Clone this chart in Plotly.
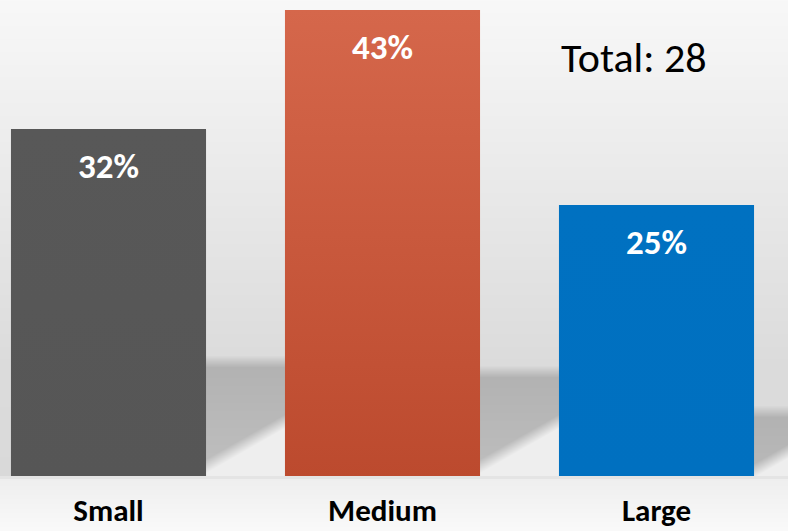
import base64
import struct
import zlib

import numpy as np
import plotly.graph_objects as go

# ---- data ----
categories = ["Small", "Medium", "Large"]
shares = [32, 43, 25]          # percent of total
total = 28
bar_top_colors = ["#585858", "#D5674B", "#0071C1"]
bar_bottom_colors = ["#565656", "#BC4A2E", "#0070C0"]

W, H = 788, 531
PLOT_H = 476
BAR_W = 0.712


def png_data_uri(gray):
    """Encode a 2-D uint8 array as a grayscale PNG data URI."""
    h, w = gray.shape
    raw = b"".join(b"\x00" + gray[r].tobytes() for r in range(h))

    def chunk(tag, data):
        c = struct.pack(">I", len(data)) + tag + data
        return c + struct.pack(">I", zlib.crc32(tag + data) & 0xFFFFFFFF)

    png = b"\x89PNG\r\n\x1a\n"
    png += chunk(b"IHDR", struct.pack(">IIBBBBB", w, h, 8, 0, 0, 0, 0))
    png += chunk(b"IDAT", zlib.compress(raw, 9))
    png += chunk(b"IEND", b"")
    return "data:image/png;base64," + base64.b64encode(png).decode()


def backdrop():
    """Soft studio backdrop: grey wall gradient, floor and cast shadows."""
    Y, X = np.mgrid[0:H, 0:W].astype(float)
    img = 248.0 - 0.078 * np.minimum(Y, 360) - 0.02 * np.clip(Y - 360, 0, None)

    # cast shadows between the bars: (x start, x end, band top, diag y at x start)
    shadows = [(200, 292, 361, 468), (474, 566, 371, 468), (747, 788, 411, 473)]
    slope = -0.57
    for x0, x1, top, yd in shadows:
        inside = (X >= x0) & (X < x1) & (Y < PLOT_H)
        a = np.clip((Y - top + 6) / 12.0, 0, 1)
        shade = 178 + 12 * np.clip((Y - top) / 100.0, 0, 1)
        v = img * (1 - a) + shade * a
        diag = yd + slope * (X - x0)
        b = np.clip((Y - diag + 6) / 14.0, 0, 1)
        v = v * (1 - b) + 238 * b
        img = np.where(inside, v, img)

    # floor in front of the bars
    floor = 238 + 12 * np.clip((Y - PLOT_H) / (H - PLOT_H), 0, 1)
    img = np.where(Y >= PLOT_H, floor, img)
    img = np.where((Y >= PLOT_H) & (Y < PLOT_H + 3), 228, img)
    return png_data_uri(np.clip(img, 0, 255).astype(np.uint8))


fig = go.Figure()

fig.add_trace(go.Bar(
    x=list(range(len(categories))),
    y=shares,
    width=BAR_W,
    marker=dict(color=bar_bottom_colors, line=dict(width=0)),
    hoverinfo="skip",
    showlegend=False,
))

# vertical colour gradient over each bar
for i, (v, top_c, bot_c) in enumerate(zip(shares, bar_top_colors, bar_bottom_colors)):
    x0, x1 = i - BAR_W / 2, i + BAR_W / 2
    fig.add_trace(go.Scatter(
        x=[x0, x1, x1, x0, x0],
        y=[0, 0, v, v, 0],
        mode="lines",
        line=dict(width=0),
        fill="toself",
        fillgradient=dict(type="vertical", start=0, stop=v,
                          colorscale=[[0, bot_c], [1, top_c]]),
        hoverinfo="skip",
        showlegend=False,
    ))

label_font = "Carlito, Calibri, Lato, sans-serif"

for i, v in enumerate(shares):
    fig.add_annotation(
        x=i, y=v, xref="x", yref="y",
        text=f"<b>{v}%</b>", showarrow=False,
        yanchor="middle", yshift=-37,
        font=dict(family=label_font, size=35, color="white"),
    )

fig.add_annotation(
    x=634 / W, y=1 - 57 / PLOT_H, xref="paper", yref="paper",
    text=f"Total: {total}", showarrow=False,
    xanchor="center", yanchor="middle",
    font=dict(family=label_font, size=42, color="black"),
)

fig.add_layout_image(dict(
    source=backdrop(), xref="paper", yref="paper",
    x=0, y=1, sizex=1, sizey=H / PLOT_H,
    xanchor="left", yanchor="top", sizing="stretch", layer="below",
))

x_lo = -108.5 / 274
x_hi = (W - 108.5) / 274
y_hi = 43 * PLOT_H / 466

fig.update_layout(
    width=W, height=H,
    margin=dict(l=0, r=0, t=0, b=H - PLOT_H, autoexpand=False),
    paper_bgcolor="#f5f5f5",
    plot_bgcolor="rgba(0,0,0,0)",
    bargap=0,
    xaxis=dict(
        range=[x_lo, x_hi], tickmode="array",
        tickvals=list(range(len(categories))),
        ticktext=[f"<b>{c}</b>" for c in categories],
        showgrid=False, zeroline=False, showline=False, ticks="",
        ticklabelstandoff=13, automargin=False,
        tickfont=dict(family=label_font, size=31, color="black"),
        fixedrange=True,
    ),
    yaxis=dict(range=[0, y_hi], visible=False, fixedrange=True,
               automargin=False),
)

fig.write_html("out.html")
